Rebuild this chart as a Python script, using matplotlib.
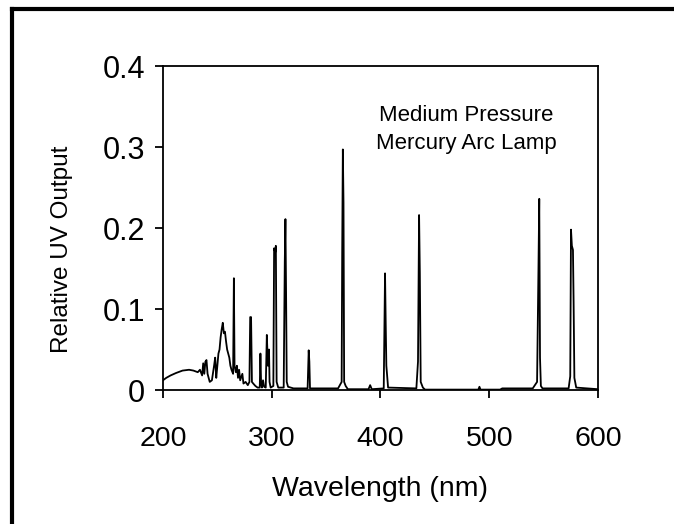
import matplotlib
matplotlib.use('Agg')
import matplotlib.pyplot as plt
from matplotlib.lines import Line2D

# spectrum: wavelength (nm) and relative UV output
wavelength = [
    200, 203, 207, 212, 218, 224, 228, 232, 234, 236, 237, 238, 239, 240, 241,
    243, 245, 247, 248, 249, 250, 251, 252, 253, 254, 255, 256, 257, 258, 259,
    260, 261, 262, 263, 264.5, 265.2, 265.8, 267, 268, 269, 270, 271, 273, 274,
    276, 278, 279.5, 280.2, 281, 281.8, 283, 285, 287, 289, 289.6, 290.2, 291,
    292, 293, 294.5, 295.5, 296.5, 297.5, 298, 299, 301.5, 302.2, 303.2, 303.8,
    304.5, 306, 311, 312, 312.6, 313.2, 313.8, 315, 320, 333, 334, 334.6, 335.2,
    361, 364.3, 364.8, 365.4, 366, 366.6, 368, 370, 389, 390.5, 392, 403, 404.2,
    404.8, 405.4, 406, 407, 433, 434.5, 435.5, 436.2, 437, 439, 441, 490, 491,
    492, 510, 512, 540, 544, 545.3, 546, 546.7, 547.5, 549, 573, 574.5, 575.2,
    576, 577, 577.6, 578.3, 580, 600,
]
uv_output = [
    0.012, 0.015, 0.018, 0.021, 0.024, 0.025, 0.024, 0.022, 0.025, 0.018, 0.033,
    0.020, 0.035, 0.037, 0.020, 0.010, 0.012, 0.030, 0.040, 0.015, 0.030, 0.045,
    0.050, 0.065, 0.075, 0.083, 0.070, 0.072, 0.060, 0.050, 0.045, 0.040, 0.030,
    0.025, 0.020, 0.138, 0.030, 0.022, 0.030, 0.015, 0.025, 0.012, 0.020, 0.008,
    0.010, 0.006, 0.010, 0.090, 0.090, 0.010, 0.008, 0.005, 0.003, 0.003, 0.045,
    0.010, 0.003, 0.012, 0.004, 0.003, 0.068, 0.030, 0.050, 0.010, 0.003, 0.005,
    0.175, 0.170, 0.178, 0.010, 0.003, 0.003, 0.158, 0.211, 0.120, 0.010, 0.004,
    0.002, 0.002, 0.049, 0.035, 0.002, 0.002, 0.010, 0.169, 0.297, 0.231, 0.010,
    0.005, 0.001, 0.001, 0.006, 0.001, 0.002, 0.144, 0.084, 0.030, 0.020, 0.003,
    0.002, 0.035, 0.216, 0.144, 0.010, 0.003, 0.0005, 0.0005, 0.004, 0.0005,
    0.0005, 0.002, 0.002, 0.010, 0.152, 0.236, 0.040, 0.005, 0.002, 0.002, 0.017,
    0.198, 0.178, 0.173, 0.108, 0.015, 0.003, 0.001,
]

x_ticks = [200, 300, 400, 500, 600]
y_ticks = [0, 0.1, 0.2, 0.3, 0.4]
y_tick_labels = ['0', '0.1', '0.2', '0.3', '0.4']

plt.rcParams['font.family'] = ['Liberation Sans', 'DejaVu Sans']

fig = plt.figure(figsize=(6.74, 5.24), dpi=100)
ax = fig.add_axes([0.2418, 0.2557, 0.6454, 0.6183])

ax.plot(wavelength, uv_output, color='black', linewidth=1.3)

ax.set_xlim(200, 600)
ax.set_ylim(0, 0.4)
ax.set_xticks(x_ticks)
ax.set_yticks(y_ticks)
ax.set_yticklabels(y_tick_labels)
ax.tick_params(axis='both', direction='out', length=6, width=1.3)
ax.tick_params(axis='x', pad=20, labelsize=20.5)
ax.tick_params(axis='y', pad=7, labelsize=22)
for s in ax.spines.values():
    s.set_linewidth(1.3)

ax.set_xlabel('Wavelength (nm)', fontsize=20.5)
ax.xaxis.set_label_coords(0.5, -0.265)
ax.set_ylabel('Relative UV Output', fontsize=17.5)
ax.yaxis.set_label_coords(-0.207, 0.435)

ax.text(478.6, 0.322, 'Medium Pressure\nMercury Arc Lamp', fontsize=16,
        ha='center', va='center', linespacing=1.45)

# outer frame (only top and left edges are visible in the picture)
fig.add_artist(Line2D([12 / 674, 1.0], [1 - 9 / 524, 1 - 9 / 524],
                      transform=fig.transFigure, color='black', linewidth=3))
fig.add_artist(Line2D([12 / 674, 12 / 674], [0.0, 1 - 9 / 524],
                      transform=fig.transFigure, color='black', linewidth=3))

plt.savefig('out.png', dpi=100)
